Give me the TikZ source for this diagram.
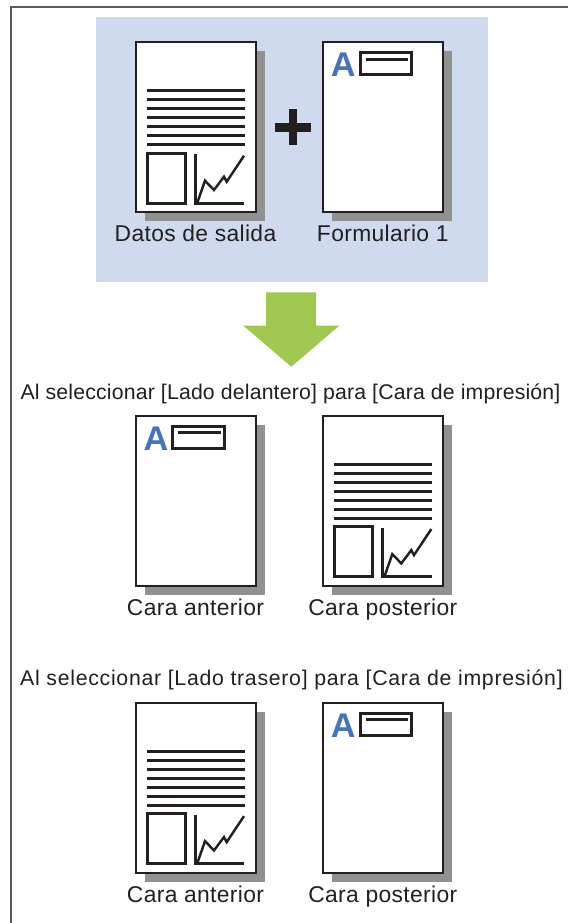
\documentclass[tikz,border=0pt]{standalone}
\usepackage{fontspec}
\setmainfont{Liberation Sans}
\usetikzlibrary{positioning}
\definecolor{colPanel}{RGB}{208,218,238}
\definecolor{colShadow}{RGB}{145,145,145}
\definecolor{colArrow}{RGB}{160,200,80}
\definecolor{colLetter}{RGB}{72,116,182}
\definecolor{colFrame}{RGB}{90,90,90}
\definecolor{colInk}{RGB}{35,31,32}
\tikzset{
    page/.style={draw=colInk, line width=1.3pt, fill=white},
    shadow/.style={fill=colShadow},
    textline/.style={draw=colInk, line width=1.6pt},
    chart/.style={draw=colInk, line width=1.4pt, line join=miter},
    caption/.style={anchor=base, inner sep=0pt, text=colInk,
        font=\fontsize{13}{15}\selectfont\addfontfeature{LetterSpace=1.5}},
    heading/.style={anchor=base, inner sep=0pt, text=colInk,
        font=\fontsize{12.1}{14}\selectfont\addfontfeature{LetterSpace=0.8}},
    wideheading/.style={heading,
        font=\fontsize{12.1}{14}\selectfont\addfontfeature{LetterSpace=3.4}},
    datadoc/.pic={
        \fill[shadow] (9,9) rectangle (129,179);
        \draw[page] (0,0) rectangle (120,170);
        \foreach \k in {0,...,6}
            \draw[textline] (11,48.6+9*\k) -- (109,48.6+9*\k);
        \draw[chart] (11.3,111) rectangle (49.3,161);
        \draw[chart] (59.3,112) |- (108.3,161);
        \draw[chart] (61.3,160.4) -- (69,138.4) -- (78,147.7) -- (88,134.4) -- (90.7,139.4) -- (108,113.4);
    },
    formdoc/.pic={
        \fill[shadow] (9,9) rectangle (129,179);
        \draw[page] (0,0) rectangle (120,170);
        \node[anchor=base, inner sep=0pt, text=colLetter, font=\fontsize{19.5}{21}\selectfont\bfseries] (-letter) at (20,34.4) {A};
        \draw[colInk, line width=1.7pt] (36.9,10.6) rectangle (88.2,32.5);
        \draw[textline] (42.4,16.9) -- (85,16.9);
    }
}

\begin{document}
\begin{tikzpicture}[x=0.02cm, y=-0.02cm]

    \useasboundingbox (0,0) rectangle (568,923);
    \fill[white] (0,0) rectangle (568,923);
    \draw[colFrame, line width=0.9pt] (568,7) -- (11,7) -- (11,923);

    % input: output data plus form
    \fill[colPanel] (96,17) rectangle (488,282);
    \pic (inData) at (136,42.3) {datadoc};
    \pic (inForm) at (323.3,42.3) {formdoc};
    \fill[colInk] (275,122.7) rectangle (310.7,132.3);
    \fill[colInk] (288.8,109.3) rectangle (297.4,145);
    \node[caption] (capData) at (195.5,241.7) {Datos de salida};
    \node[caption] (capForm) at (382.8,241.7) {Formulario 1};

    \fill[colArrow] (266,292.3) -- (316,292.3) -- (316,325.7) -- (339.3,325.7)
        -- (291.3,366.7) -- (243.3,325.7) -- (266,325.7) -- cycle;

    % front side
    \node[heading] (headFront) at (290.5,399.5) {Al seleccionar [Lado delantero] para [Cara de impresión]};
    \pic (frontA) at (136,415.7) {formdoc};
    \pic (frontB) at (323.3,415.7) {datadoc};
    \node[caption] (capFrontA) at (195.5,615.4) {Cara anterior};
    \node[caption] (capFrontB) at (382.8,615.4) {Cara posterior};

    % back side
    \node[wideheading] (headBack) at (291.5,685) {Al seleccionar [Lado trasero] para [Cara de impresión]};
    \pic (backA) at (136,702.7) {datadoc};
    \pic (backB) at (323.3,702.7) {formdoc};
    \node[caption] (capBackA) at (195.5,902.5) {Cara anterior};
    \node[caption] (capBackB) at (382.8,902.5) {Cara posterior};

\end{tikzpicture}
\end{document}
